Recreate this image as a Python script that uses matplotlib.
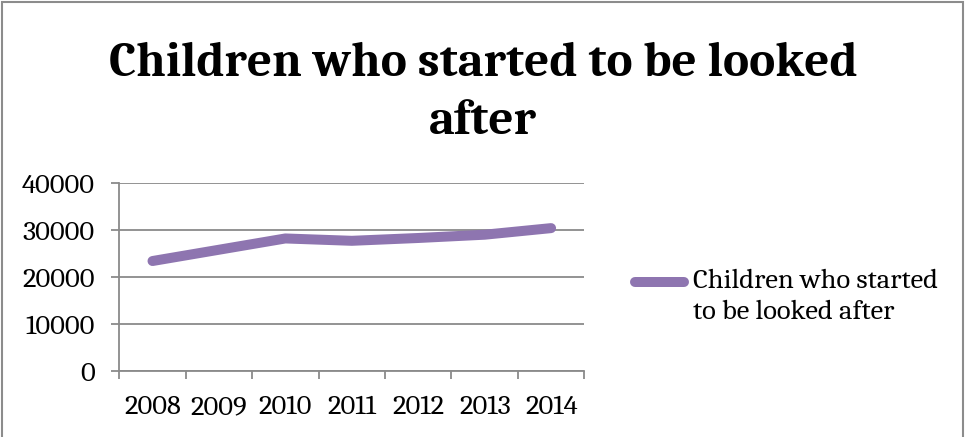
import matplotlib
matplotlib.use('Agg')
import matplotlib.pyplot as plt
from matplotlib import font_manager as fm
from matplotlib.patches import Rectangle
import numpy as np

# ---- data ----
years = ['2008', '2009', '2010', '2011', '2012', '2013', '2014']
children = [23400, 25800, 28200, 27700, 28300, 29000, 30400]
series_label = 'Children who started\nto be looked after'
title_text = 'Children who started to be looked\nafter'
y_ticks = [0, 10000, 20000, 30000, 40000]

# ---- fonts ----
available = {f.name for f in fm.fontManager.ttflist}
serif = 'Caladea' if 'Caladea' in available else 'DejaVu Serif'

W, H = 967, 437
fig = plt.figure(figsize=(W / 100, H / 100), dpi=100)

def px(x, y):
    return x / W, 1 - y / H

left, right, top, bottom = 119.3, 584.3, 183, 371
ax = fig.add_axes([left / W, 1 - bottom / H, (right - left) / W, (bottom - top) / H])

xs = np.arange(len(years))
ax.plot(xs, children, color='#8E75B0', lw=7.2, solid_capstyle='round',
        solid_joinstyle='round', label=series_label)
ax.set_xlim(-0.5, len(years) - 0.5)
ax.set_ylim(0, 40000)

fs = 20.5
grid_c = '#8a8a8a'
ax.set_yticks(y_ticks)
ax.set_yticklabels([str(v) for v in y_ticks])
ax.yaxis.grid(True, color=grid_c, lw=1.3)
ax.set_axisbelow(True)
ax.set_xticks(np.arange(-0.5, len(years), 1.0))
ax.set_xticklabels([''] * (len(years) + 1))
ax.set_xticks(xs, minor=True)
ax.set_xticklabels(years, minor=True)
ax.tick_params(axis='x', which='major', length=5.5, width=1.3, color=grid_c, direction='out')
ax.tick_params(axis='x', which='minor', length=0, pad=17, labelsize=fs)
ax.tick_params(axis='y', length=5.5, width=1.3, color=grid_c, direction='out', pad=12, labelsize=fs)
for lab in ax.get_xticklabels(minor=True) + ax.get_yticklabels():
    lab.set_fontfamily(serif)
for s in ['top', 'right']:
    ax.spines[s].set_visible(False)
for s in ['left', 'bottom']:
    ax.spines[s].set_color(grid_c)
    ax.spines[s].set_linewidth(1.3)

leg = ax.legend(loc='center left', bbox_to_anchor=px(635, 297), bbox_transform=fig.transFigure,
                frameon=False, borderpad=0, borderaxespad=0, handlelength=1.73, handletextpad=0.32,
                prop={'family': serif, 'size': fs})
for t in leg.get_texts():
    t.set_linespacing(1.32)
for ln in leg.get_lines():
    ln.set_ydata(np.asarray(ln.get_ydata()) + 10.8)
    ln.set_solid_capstyle('round')

tx, ty = px(483, 93)
fig.text(tx, ty, title_text, ha='center', va='center', multialignment='center',
         fontsize=35.5, fontweight='bold', family=serif, linespacing=1.39)

fig.add_artist(Rectangle(px(2, 460), (963 - 2) / W, (460 - 2) / H, transform=fig.transFigure,
                         fill=False, edgecolor='#8c8c8c', lw=1.5))

fig.savefig('out.png', dpi=100)
